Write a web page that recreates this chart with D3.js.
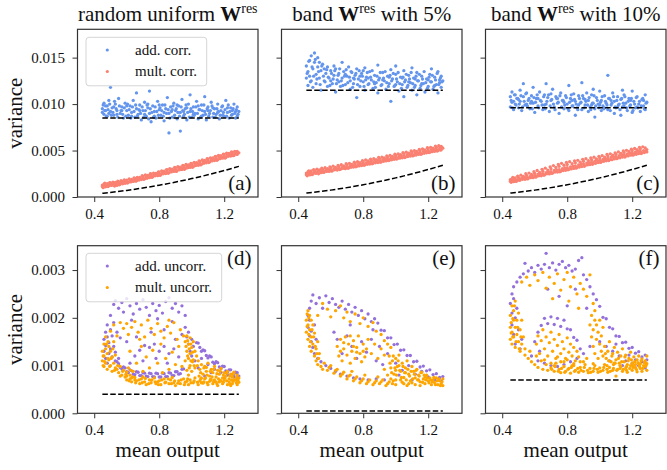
<!DOCTYPE html>
<html>
<head>
<meta charset="utf-8">
<script src="https://cdn.jsdelivr.net/npm/d3@7"></script>
<style>
  body { margin: 0; background: #fff; }
  svg text { font-family: "Liberation Serif", "Times New Roman", serif; }
</style>
</head>
<body>
<svg id="chart" width="667" height="470"></svg>
<script>
// ---- data ----
const titles = ["random uniform", "band", "band"];
const titleTails = ["", " with 5%", " with 10%"];
const panelLabels = ["(a)", "(b)", "(c)", "(d)", "(e)", "(f)"];
const xTicks = [0.4, 0.8, 1.2];
const yTicksTop = [0, 0.005, 0.010, 0.015];
const yTicksBottom = [0, 0.001, 0.002, 0.003];
const legendTop = ["add. corr.", "mult. corr."];
const legendBottom = ["add. uncorr.", "mult. uncorr."];

// dashed theory lines
const theorySpan = [0.45, 1.29];
const theoryX = [0.45, 0.6, 0.8, 1.0, 1.2, 1.29];
const theoryMultA = [0.0004, 0.00071, 0.00127, 0.00198, 0.00285, 0.0033];
const theoryMultB = [0.00042, 0.00074, 0.00132, 0.00206, 0.00296, 0.00342];
const theoryMultC = [0.00042, 0.00074, 0.00132, 0.00206, 0.00296, 0.00342];
const theoryAddTop = [0.0085, 0.0115, 0.0096];
const theoryBottom = [0.0004, 0.00005, 0.0007];

// (a) random uniform, correlated noise
const addCorrA = [[0.45,0.0095],[0.46,0.0089],[0.46,0.0101],[0.47,0.0093],[0.48,0.0098],[0.48,0.0087],[0.49,0.0104],[0.50,0.0092],[0.50,0.0118],[0.51,0.0096],[0.52,0.0088],[0.53,0.0100],[0.54,0.0093],[0.55,0.0106],[0.56,0.0090],[0.57,0.0097],[0.58,0.0085],[0.59,0.0101],[0.60,0.0093],[0.61,0.0088],[0.62,0.0098],[0.63,0.0091],[0.64,0.0104],[0.65,0.0086],[0.66,0.0112],[0.66,0.0095],[0.67,0.0089],[0.68,0.0099],[0.69,0.0083],[0.70,0.0093],[0.71,0.0102],[0.72,0.0087],[0.73,0.0096],[0.74,0.0114],[0.74,0.0090],[0.75,0.0081],[0.76,0.0098],[0.77,0.0092],[0.78,0.0085],[0.79,0.0103],[0.80,0.0094],[0.81,0.0088],[0.82,0.0099],[0.83,0.0082],[0.84,0.0095],[0.85,0.0107],[0.86,0.0069],[0.86,0.0090],[0.87,0.0097],[0.88,0.0086],[0.89,0.0101],[0.90,0.0093],[0.91,0.0084],[0.92,0.0098],[0.93,0.0071],[0.93,0.0091],[0.94,0.0105],[0.95,0.0087],[0.96,0.0095],[0.97,0.0083],[0.98,0.0100],[0.99,0.0110],[0.99,0.0092],[1.00,0.0086],[1.01,0.0097],[1.02,0.0090],[1.03,0.0103],[1.04,0.0084],[1.05,0.0094],[1.06,0.0099],[1.07,0.0088],[1.08,0.0108],[1.08,0.0092],[1.09,0.0083],[1.10,0.0097],[1.11,0.0090],[1.12,0.0102],[1.13,0.0086],[1.14,0.0095],[1.15,0.0089],[1.16,0.0100],[1.17,0.0084],[1.18,0.0093],[1.19,0.0098],[1.20,0.0087],[1.21,0.0104],[1.22,0.0091],[1.23,0.0085],[1.24,0.0096],[1.25,0.0089],[1.26,0.0100],[1.27,0.0092],[1.28,0.0087],[1.28,0.0097],[0.45,0.0091],[0.47,0.0098],[0.49,0.0090],[0.52,0.0097],[0.54,0.0089],[0.57,0.0093],[0.60,0.0098],[0.63,0.0087],[0.68,0.0093],[0.71,0.0089],[0.73,0.0100],[0.77,0.0087],[0.80,0.0099],[0.83,0.0091],[0.88,0.0094],[0.91,0.0099],[0.95,0.0092],[0.97,0.0096],[1.01,0.0089],[1.04,0.0098],[1.06,0.0087],[1.10,0.0093],[1.13,0.0096],[1.16,0.0091],[1.19,0.0088],[1.22,0.0096],[1.25,0.0093],[1.27,0.0085],[1.29,0.0092],
  [0.455,0.0099],[0.465,0.0093],[0.475,0.0087],[0.485,0.0094],[0.495,0.0100],[0.505,0.0088],[0.515,0.0091],[0.525,0.0103],[0.535,0.0095],[0.545,0.0086],[0.555,0.0098],[0.565,0.0093],[0.575,0.0089],[0.585,0.0096],[0.595,0.0087],[0.605,0.0100],[0.615,0.0094],[0.625,0.0085],[0.635,0.0097],[0.645,0.0092],[0.655,0.0099],[0.665,0.0087],[0.675,0.0094],[0.685,0.0090],[0.695,0.0097],[0.705,0.0086],[0.715,0.0093],[0.725,0.0099],[0.735,0.0084],[0.745,0.0095],[0.755,0.0091],[0.765,0.0086],[0.775,0.0097],[0.785,0.0092],[0.795,0.0088],[0.805,0.0096],[0.815,0.0093],[0.825,0.0087],[0.835,0.0099],[0.845,0.0090],[0.855,0.0094],[0.865,0.0085],[0.875,0.0092],[0.885,0.0098],[0.895,0.0088],[0.905,0.0095],[0.915,0.0091],[0.925,0.0087],[0.935,0.0097],[0.945,0.0093],[0.955,0.0089],[0.965,0.0099],[0.975,0.0091],[0.985,0.0086],[0.995,0.0095],[1.005,0.0092],[1.015,0.0088],[1.025,0.0097],[1.035,0.0090],[1.045,0.0094],[1.055,0.0086],[1.065,0.0093],[1.075,0.0099],[1.085,0.0089],[1.095,0.0095],[1.105,0.0087],[1.115,0.0093],[1.125,0.0098],[1.135,0.0090],[1.145,0.0086],[1.155,0.0095],[1.165,0.0092],[1.175,0.0088],[1.185,0.0097],[1.195,0.0091],[1.205,0.0094],[1.215,0.0087],[1.225,0.0099],[1.235,0.0092],[1.245,0.0088],[1.255,0.0095],[1.265,0.0090],[1.275,0.0094],[1.285,0.0089]];
const multCorrA = [[0.45,0.00112],[0.45,0.00128],[0.46,0.00120],[0.46,0.00138],[0.47,0.00110],[0.48,0.00131],[0.48,0.00145],[0.49,0.00122],[0.50,0.00138],[0.50,0.00152],[0.51,0.00128],[0.52,0.00146],[0.53,0.00136],[0.53,0.00158],[0.54,0.00125],[0.55,0.00150],[0.56,0.00162],[0.56,0.00140],[0.57,0.00155],[0.58,0.00170],[0.59,0.00148],[0.60,0.00165],[0.60,0.00182],[0.61,0.00158],[0.62,0.00176],[0.63,0.00190],[0.64,0.00168],[0.65,0.00185],[0.65,0.00200],[0.66,0.00175],[0.67,0.00195],[0.68,0.00210],[0.69,0.00188],[0.70,0.00205],[0.70,0.00222],[0.71,0.00196],[0.72,0.00215],[0.73,0.00232],[0.74,0.00208],[0.75,0.00225],[0.75,0.00245],[0.76,0.00218],[0.77,0.00238],[0.78,0.00255],[0.79,0.00230],[0.80,0.00248],[0.80,0.00268],[0.81,0.00240],[0.82,0.00262],[0.83,0.00278],[0.84,0.00252],[0.85,0.00270],[0.85,0.00292],[0.86,0.00262],[0.87,0.00285],[0.88,0.00300],[0.89,0.00275],[0.90,0.00292],[0.90,0.00312],[0.91,0.00282],[0.92,0.00305],[0.93,0.00322],[0.94,0.00296],[0.95,0.00315],[0.95,0.00335],[0.96,0.00305],[0.97,0.00328],[0.98,0.00345],[0.99,0.00318],[1.00,0.00338],[1.00,0.00358],[1.01,0.00328],[1.02,0.00352],[1.03,0.00370],[1.04,0.00342],[1.05,0.00362],[1.05,0.00382],[1.06,0.00352],[1.07,0.00378],[1.08,0.00395],[1.09,0.00368],[1.10,0.00388],[1.10,0.00408],[1.11,0.00378],[1.12,0.00402],[1.13,0.00420],[1.14,0.00392],[1.15,0.00412],[1.15,0.00432],[1.16,0.00402],[1.17,0.00428],[1.18,0.00445],[1.19,0.00418],[1.20,0.00438],[1.20,0.00458],[1.21,0.00425],[1.22,0.00450],[1.23,0.00468],[1.24,0.00440],[1.25,0.00462],[1.25,0.00480],[1.26,0.00448],[1.27,0.00472],[1.28,0.00490],[1.28,0.00458],[1.29,0.00475],
  [0.455,0.00100],[0.465,0.00148],[0.475,0.00128],[0.485,0.00112],[0.495,0.00155],[0.505,0.00125],[0.515,0.00160],[0.525,0.00118],[0.535,0.00145],[0.545,0.00170],[0.555,0.00132],[0.565,0.00175],[0.575,0.00142],[0.585,0.00185],[0.595,0.00160],[0.605,0.00150],[0.615,0.00195],[0.625,0.00162],[0.635,0.00175],[0.645,0.00205],[0.655,0.00170],[0.665,0.00210],[0.675,0.00182],[0.685,0.00198],[0.695,0.00230],[0.705,0.00190],[0.715,0.00238],[0.725,0.00202],[0.735,0.00222],[0.745,0.00250],[0.755,0.00212],[0.765,0.00258],[0.775,0.00228],[0.785,0.00242],[0.795,0.00270],[0.805,0.00232],[0.815,0.00282],[0.825,0.00250],[0.835,0.00262],[0.845,0.00295],[0.855,0.00255],[0.865,0.00305],[0.875,0.00270],[0.885,0.00288],[0.895,0.00318],[0.905,0.00275],[0.915,0.00328],[0.925,0.00292],[0.935,0.00308],[0.945,0.00340],[0.955,0.00298],[0.965,0.00350],[0.975,0.00315],[0.985,0.00332],[0.995,0.00362],[1.005,0.00320],[1.015,0.00372],[1.025,0.00338],[1.035,0.00355],[1.045,0.00388],[1.055,0.00345],[1.065,0.00398],[1.075,0.00362],[1.085,0.00380],[1.095,0.00412],[1.105,0.00370],[1.115,0.00422],[1.125,0.00388],[1.135,0.00405],[1.145,0.00438],[1.155,0.00395],[1.165,0.00448],[1.175,0.00412],[1.185,0.00430],[1.195,0.00462],[1.205,0.00420],[1.215,0.00472],[1.225,0.00438],[1.235,0.00455],[1.245,0.00485],[1.255,0.00445],[1.265,0.00492],[1.275,0.00462],[1.285,0.00478]];

// (b) band 5%, correlated noise
const addCorrB = [[0.45,0.0128],[0.45,0.0141],[0.46,0.0135],[0.46,0.0120],[0.47,0.0147],[0.47,0.0130],[0.48,0.0152],[0.48,0.0125],[0.49,0.0138],[0.49,0.0118],[0.50,0.0145],[0.50,0.0155],[0.51,0.0132],[0.51,0.0122],[0.52,0.0140],[0.52,0.0150],[0.53,0.0128],[0.54,0.0136],[0.54,0.0115],[0.55,0.0143],[0.56,0.0125],[0.57,0.0133],[0.58,0.0119],[0.58,0.0140],[0.59,0.0128],[0.60,0.0136],[0.61,0.0122],[0.62,0.0131],[0.63,0.0113],[0.63,0.0138],[0.64,0.0126],[0.65,0.0133],[0.66,0.0119],[0.67,0.0145],[0.67,0.0128],[0.68,0.0135],[0.69,0.0121],[0.70,0.0130],[0.71,0.0140],[0.72,0.0116],[0.72,0.0125],[0.73,0.0134],[0.74,0.0122],[0.75,0.0131],[0.76,0.0107],[0.76,0.0138],[0.77,0.0127],[0.78,0.0119],[0.79,0.0133],[0.80,0.0124],[0.81,0.0139],[0.81,0.0115],[0.82,0.0129],[0.83,0.0121],[0.84,0.0135],[0.85,0.0126],[0.86,0.0117],[0.87,0.0131],[0.88,0.0123],[0.89,0.0142],[0.89,0.0112],[0.90,0.0128],[0.91,0.0120],[0.92,0.0134],[0.93,0.0125],[0.94,0.0116],[0.95,0.0130],[0.96,0.0122],[0.97,0.0137],[0.97,0.0103],[0.98,0.0127],[0.99,0.0119],[1.00,0.0132],[1.01,0.0124],[1.02,0.0114],[1.03,0.0129],[1.04,0.0121],[1.05,0.0136],[1.05,0.0108],[1.06,0.0126],[1.07,0.0118],[1.08,0.0131],[1.09,0.0123],[1.10,0.0115],[1.11,0.0128],[1.12,0.0120],[1.13,0.0134],[1.13,0.0110],[1.14,0.0125],[1.15,0.0117],[1.16,0.0130],[1.17,0.0122],[1.18,0.0113],[1.19,0.0127],[1.20,0.0119],[1.21,0.0132],[1.22,0.0124],[1.23,0.0116],[1.24,0.0129],[1.25,0.0121],[1.26,0.0135],[1.26,0.0112],[1.27,0.0126],[1.28,0.0118],[1.28,0.0130],[0.53,0.0145],[0.56,0.0138],[0.60,0.0125],[0.65,0.0124],[0.69,0.0132],[0.74,0.0128],[0.78,0.0130],[0.83,0.0128],[0.87,0.0122],[0.92,0.0126],[0.96,0.0129],[1.00,0.0121],[1.04,0.0128],[1.08,0.0124],[1.12,0.0127],[1.16,0.0122],[1.20,0.0126],[1.24,0.0120],[1.27,0.0123],[0.62,0.0141],[0.80,0.0136],[1.00,0.0141],[1.10,0.0139],[1.22,0.0138],[1.29,0.0125],
  [0.455,0.0133],[0.465,0.0146],[0.475,0.0124],[0.485,0.0140],[0.495,0.0130],[0.505,0.0148],[0.515,0.0127],[0.525,0.0135],[0.535,0.0121],[0.545,0.0141],[0.555,0.0130],[0.565,0.0124],[0.575,0.0137],[0.585,0.0129],[0.595,0.0120],[0.605,0.0133],[0.615,0.0127],[0.625,0.0136],[0.635,0.0122],[0.645,0.0131],[0.655,0.0138],[0.665,0.0125],[0.675,0.0120],[0.685,0.0130],[0.695,0.0137],[0.705,0.0123],[0.715,0.0129],[0.725,0.0135],[0.735,0.0118],[0.745,0.0127],[0.755,0.0133],[0.765,0.0121],[0.775,0.0136],[0.785,0.0125],[0.795,0.0130],[0.805,0.0119],[0.815,0.0126],[0.825,0.0134],[0.835,0.0122],[0.845,0.0129],[0.855,0.0136],[0.865,0.0124],[0.875,0.0118],[0.885,0.0130],[0.895,0.0126],[0.905,0.0134],[0.915,0.0121],[0.925,0.0128],[0.935,0.0135],[0.945,0.0123],[0.955,0.0119],[0.965,0.0131],[0.975,0.0125],[0.985,0.0133],[0.995,0.0120],[1.005,0.0127],[1.015,0.0134],[1.025,0.0122],[1.035,0.0117],[1.045,0.0129],[1.055,0.0124],[1.065,0.0132],[1.075,0.0120],[1.085,0.0127],[1.095,0.0134],[1.105,0.0122],[1.115,0.0118],[1.125,0.0130],[1.135,0.0125],[1.145,0.0132],[1.155,0.0120],[1.165,0.0127],[1.175,0.0135],[1.185,0.0123],[1.195,0.0117],[1.205,0.0129],[1.215,0.0124],[1.225,0.0131],[1.235,0.0119],[1.245,0.0126],[1.255,0.0133],[1.265,0.0121],[1.275,0.0128],[1.285,0.0124]];
const multCorrB = [[0.45,0.00240],[0.45,0.00258],[0.46,0.00250],[0.46,0.00270],[0.47,0.00238],[0.48,0.00262],[0.48,0.00280],[0.49,0.00248],[0.50,0.00268],[0.50,0.00285],[0.51,0.00255],[0.52,0.00275],[0.53,0.00292],[0.54,0.00262],[0.55,0.00282],[0.55,0.00298],[0.56,0.00268],[0.57,0.00288],[0.58,0.00305],[0.59,0.00275],[0.60,0.00295],[0.60,0.00312],[0.61,0.00282],[0.62,0.00302],[0.63,0.00318],[0.64,0.00290],[0.65,0.00310],[0.65,0.00328],[0.66,0.00298],[0.67,0.00318],[0.68,0.00335],[0.69,0.00305],[0.70,0.00325],[0.70,0.00345],[0.71,0.00312],[0.72,0.00335],[0.73,0.00352],[0.74,0.00322],[0.75,0.00342],[0.75,0.00362],[0.76,0.00330],[0.77,0.00352],[0.78,0.00370],[0.79,0.00338],[0.80,0.00360],[0.80,0.00380],[0.81,0.00346],[0.82,0.00368],[0.83,0.00388],[0.84,0.00355],[0.85,0.00375],[0.85,0.00395],[0.86,0.00362],[0.87,0.00385],[0.88,0.00402],[0.89,0.00370],[0.90,0.00392],[0.90,0.00412],[0.91,0.00378],[0.92,0.00402],[0.93,0.00420],[0.94,0.00388],[0.95,0.00410],[0.95,0.00430],[0.96,0.00395],[0.97,0.00418],[0.98,0.00438],[0.99,0.00405],[1.00,0.00428],[1.00,0.00448],[1.01,0.00412],[1.02,0.00438],[1.03,0.00455],[1.04,0.00422],[1.05,0.00445],[1.05,0.00465],[1.06,0.00430],[1.07,0.00455],[1.08,0.00472],[1.09,0.00440],[1.10,0.00462],[1.10,0.00482],[1.11,0.00448],[1.12,0.00472],[1.13,0.00490],[1.14,0.00458],[1.15,0.00480],[1.15,0.00500],[1.16,0.00465],[1.17,0.00490],[1.18,0.00508],[1.19,0.00475],[1.20,0.00498],[1.20,0.00518],[1.21,0.00482],[1.22,0.00508],[1.23,0.00525],[1.24,0.00492],[1.25,0.00515],[1.25,0.00535],[1.26,0.00500],[1.27,0.00522],[1.28,0.00545],[1.28,0.00508],[1.29,0.00525],
  [0.455,0.00228],[0.465,0.00282],[0.475,0.00262],[0.485,0.00240],[0.495,0.00295],[0.505,0.00258],[0.515,0.00300],[0.525,0.00250],[0.535,0.00280],[0.545,0.00310],[0.555,0.00265],[0.565,0.00315],[0.575,0.00275],[0.585,0.00298],[0.595,0.00325],[0.605,0.00280],[0.615,0.00332],[0.625,0.00292],[0.635,0.00305],[0.645,0.00340],[0.655,0.00295],[0.665,0.00348],[0.675,0.00308],[0.685,0.00322],[0.695,0.00358],[0.705,0.00310],[0.715,0.00362],[0.725,0.00320],[0.735,0.00338],[0.745,0.00375],[0.755,0.00325],[0.765,0.00380],[0.775,0.00335],[0.785,0.00355],[0.795,0.00390],[0.805,0.00342],[0.815,0.00398],[0.825,0.00352],[0.835,0.00372],[0.845,0.00408],[0.855,0.00358],[0.865,0.00412],[0.875,0.00368],[0.885,0.00390],[0.895,0.00425],[0.905,0.00375],[0.915,0.00430],[0.925,0.00385],[0.935,0.00405],[0.945,0.00442],[0.955,0.00392],[0.965,0.00448],[0.975,0.00400],[0.985,0.00422],[0.995,0.00460],[1.005,0.00408],[1.015,0.00465],[1.025,0.00418],[1.035,0.00440],[1.045,0.00478],[1.055,0.00425],[1.065,0.00482],[1.075,0.00435],[1.085,0.00458],[1.095,0.00495],[1.105,0.00442],[1.115,0.00500],[1.125,0.00452],[1.135,0.00475],[1.145,0.00512],[1.155,0.00460],[1.165,0.00518],[1.175,0.00470],[1.185,0.00492],[1.195,0.00530],[1.205,0.00478],[1.215,0.00535],[1.225,0.00488],[1.235,0.00510],[1.245,0.00548],[1.255,0.00495],[1.265,0.00552],[1.275,0.00505],[1.285,0.00530]];

// (c) band 10%, correlated noise
const addCorrC = [[0.45,0.0108],[0.45,0.0097],[0.46,0.0113],[0.46,0.0102],[0.47,0.0094],[0.48,0.0110],[0.48,0.0100],[0.49,0.0106],[0.50,0.0096],[0.51,0.0115],[0.51,0.0103],[0.52,0.0093],[0.53,0.0108],[0.53,0.0122],[0.54,0.0099],[0.55,0.0112],[0.56,0.0104],[0.57,0.0095],[0.58,0.0109],[0.59,0.0118],[0.59,0.0101],[0.60,0.0091],[0.61,0.0106],[0.62,0.0098],[0.63,0.0113],[0.64,0.0103],[0.65,0.0094],[0.66,0.0110],[0.67,0.0122],[0.67,0.0100],[0.68,0.0107],[0.69,0.0092],[0.70,0.0104],[0.71,0.0116],[0.72,0.0097],[0.73,0.0108],[0.74,0.0101],[0.75,0.0090],[0.76,0.0112],[0.77,0.0104],[0.78,0.0095],[0.79,0.0109],[0.80,0.0100],[0.81,0.0120],[0.81,0.0093],[0.82,0.0106],[0.83,0.0098],[0.84,0.0111],[0.85,0.0088],[0.85,0.0103],[0.86,0.0096],[0.87,0.0109],[0.88,0.0101],[0.89,0.0123],[0.89,0.0094],[0.90,0.0106],[0.91,0.0099],[0.92,0.0112],[0.93,0.0092],[0.93,0.0104],[0.94,0.0097],[0.95,0.0110],[0.96,0.0101],[0.97,0.0086],[0.97,0.0095],[0.98,0.0107],[0.99,0.0100],[1.00,0.0114],[1.01,0.0093],[1.01,0.0104],[1.02,0.0098],[1.03,0.0109],[1.04,0.0101],[1.05,0.0131],[1.05,0.0094],[1.06,0.0106],[1.07,0.0099],[1.08,0.0112],[1.09,0.0090],[1.09,0.0103],[1.10,0.0096],[1.11,0.0108],[1.12,0.0100],[1.13,0.0088],[1.13,0.0105],[1.14,0.0097],[1.15,0.0110],[1.16,0.0101],[1.17,0.0093],[1.18,0.0106],[1.19,0.0099],[1.20,0.0114],[1.20,0.0091],[1.21,0.0103],[1.22,0.0096],[1.23,0.0108],[1.24,0.0100],[1.25,0.0092],[1.26,0.0105],[1.27,0.0098],[1.28,0.0110],[1.28,0.0094],[1.29,0.0102],[0.47,0.0103],[0.50,0.0105],[0.55,0.0100],[0.58,0.0103],[0.62,0.0106],[0.66,0.0099],[0.70,0.0111],[0.74,0.0106],[0.78,0.0102],[0.83,0.0104],[0.87,0.0099],[0.91,0.0105],[0.95,0.0099],[1.00,0.0099],[1.03,0.0096],[1.07,0.0104],[1.11,0.0097],[1.15,0.0098],[1.19,0.0104],[1.23,0.0097],[1.27,0.0104],[1.14,0.0115],[0.96,0.0116],
  [0.455,0.0104],[0.465,0.0096],[0.475,0.0110],[0.485,0.0099],[0.495,0.0106],[0.505,0.0100],[0.515,0.0109],[0.525,0.0097],[0.535,0.0103],[0.545,0.0111],[0.555,0.0098],[0.565,0.0106],[0.575,0.0101],[0.585,0.0095],[0.595,0.0107],[0.605,0.0102],[0.615,0.0110],[0.625,0.0096],[0.635,0.0104],[0.645,0.0099],[0.655,0.0108],[0.665,0.0095],[0.675,0.0103],[0.685,0.0110],[0.695,0.0098],[0.705,0.0105],[0.715,0.0100],[0.725,0.0094],[0.735,0.0106],[0.745,0.0102],[0.755,0.0109],[0.765,0.0097],[0.775,0.0104],[0.785,0.0099],[0.795,0.0107],[0.805,0.0095],[0.815,0.0102],[0.825,0.0110],[0.835,0.0098],[0.845,0.0105],[0.855,0.0100],[0.865,0.0094],[0.875,0.0106],[0.885,0.0102],[0.895,0.0109],[0.905,0.0096],[0.915,0.0103],[0.925,0.0099],[0.935,0.0107],[0.945,0.0094],[0.955,0.0101],[0.965,0.0109],[0.975,0.0098],[0.985,0.0104],[0.995,0.0096],[1.005,0.0102],[1.015,0.0108],[1.025,0.0095],[1.035,0.0103],[1.045,0.0099],[1.055,0.0106],[1.065,0.0093],[1.075,0.0101],[1.085,0.0108],[1.095,0.0097],[1.105,0.0104],[1.115,0.0099],[1.125,0.0094],[1.135,0.0106],[1.145,0.0101],[1.155,0.0108],[1.165,0.0096],[1.175,0.0103],[1.185,0.0098],[1.195,0.0106],[1.205,0.0093],[1.215,0.0100],[1.225,0.0107],[1.235,0.0096],[1.245,0.0103],[1.255,0.0098],[1.265,0.0106],[1.275,0.0095],[1.285,0.0101]];
const multCorrC = [[0.45,0.00170],[0.45,0.00188],[0.46,0.00178],[0.46,0.00196],[0.47,0.00165],[0.48,0.00185],[0.48,0.00205],[0.49,0.00175],[0.50,0.00195],[0.50,0.00212],[0.51,0.00182],[0.52,0.00202],[0.53,0.00222],[0.54,0.00190],[0.55,0.00212],[0.55,0.00232],[0.56,0.00198],[0.57,0.00220],[0.58,0.00242],[0.59,0.00208],[0.60,0.00232],[0.60,0.00255],[0.61,0.00218],[0.62,0.00242],[0.63,0.00265],[0.64,0.00228],[0.65,0.00252],[0.65,0.00278],[0.66,0.00238],[0.67,0.00262],[0.68,0.00290],[0.69,0.00248],[0.70,0.00272],[0.70,0.00305],[0.71,0.00258],[0.72,0.00285],[0.73,0.00318],[0.74,0.00268],[0.75,0.00295],[0.75,0.00330],[0.76,0.00278],[0.77,0.00305],[0.78,0.00342],[0.79,0.00288],[0.80,0.00315],[0.80,0.00350],[0.81,0.00298],[0.82,0.00325],[0.83,0.00358],[0.84,0.00308],[0.85,0.00335],[0.85,0.00368],[0.86,0.00318],[0.87,0.00345],[0.88,0.00375],[0.89,0.00328],[0.90,0.00355],[0.90,0.00385],[0.91,0.00338],[0.92,0.00365],[0.93,0.00392],[0.94,0.00350],[0.95,0.00375],[0.95,0.00402],[0.96,0.00360],[0.97,0.00385],[0.98,0.00410],[0.99,0.00370],[1.00,0.00395],[1.00,0.00420],[1.01,0.00380],[1.02,0.00405],[1.03,0.00430],[1.04,0.00390],[1.05,0.00415],[1.05,0.00440],[1.06,0.00400],[1.07,0.00425],[1.08,0.00450],[1.09,0.00410],[1.10,0.00435],[1.10,0.00460],[1.11,0.00420],[1.12,0.00445],[1.13,0.00470],[1.14,0.00430],[1.15,0.00455],[1.15,0.00480],[1.16,0.00440],[1.17,0.00465],[1.18,0.00490],[1.19,0.00450],[1.20,0.00475],[1.20,0.00500],[1.21,0.00460],[1.22,0.00485],[1.23,0.00510],[1.24,0.00468],[1.25,0.00492],[1.25,0.00518],[1.26,0.00475],[1.27,0.00500],[1.28,0.00528],[1.29,0.00485],[1.29,0.00510],
  [0.455,0.00158],[0.465,0.00210],[0.475,0.00185],[0.485,0.00168],[0.495,0.00225],[0.505,0.00180],[0.515,0.00235],[0.525,0.00190],[0.535,0.00212],[0.545,0.00250],[0.555,0.00195],[0.565,0.00258],[0.575,0.00208],[0.585,0.00230],[0.595,0.00272],[0.605,0.00215],[0.615,0.00285],[0.625,0.00228],[0.635,0.00250],[0.645,0.00298],[0.655,0.00235],[0.665,0.00310],[0.675,0.00250],[0.685,0.00272],[0.695,0.00325],[0.705,0.00255],[0.715,0.00338],[0.725,0.00268],[0.735,0.00292],[0.745,0.00350],[0.755,0.00272],[0.765,0.00362],[0.775,0.00285],[0.785,0.00312],[0.795,0.00372],[0.805,0.00292],[0.815,0.00380],[0.825,0.00302],[0.835,0.00330],[0.845,0.00388],[0.855,0.00310],[0.865,0.00395],[0.875,0.00322],[0.885,0.00350],[0.895,0.00405],[0.905,0.00330],[0.915,0.00412],[0.925,0.00345],[0.935,0.00370],[0.945,0.00420],[0.955,0.00352],[0.965,0.00428],[0.975,0.00362],[0.985,0.00392],[0.995,0.00438],[1.005,0.00372],[1.015,0.00445],[1.025,0.00385],[1.035,0.00412],[1.045,0.00458],[1.055,0.00392],[1.065,0.00465],[1.075,0.00402],[1.085,0.00432],[1.095,0.00475],[1.105,0.00412],[1.115,0.00485],[1.125,0.00422],[1.135,0.00452],[1.145,0.00495],[1.155,0.00430],[1.165,0.00502],[1.175,0.00442],[1.185,0.00472],[1.195,0.00515],[1.205,0.00450],[1.215,0.00522],[1.225,0.00460],[1.235,0.00490],[1.245,0.00535],[1.255,0.00468],[1.265,0.00540],[1.275,0.00478],[1.285,0.00500]];

// (d) random uniform, uncorrelated noise
const addUncorrD = [[0.50,0.00205],[0.52,0.00228],[0.53,0.00236],[0.55,0.00220],[0.57,0.00232],[0.58,0.00212],[0.60,0.00240],[0.62,0.00225],[0.64,0.00208],[0.66,0.00230],[0.68,0.00218],[0.70,0.00238],[0.72,0.00222],[0.74,0.00205],[0.76,0.00230],[0.78,0.00215],[0.80,0.00226],[0.82,0.00210],[0.84,0.00234],[0.86,0.00242],[0.88,0.00220],[0.90,0.00230],[0.92,0.00212],[0.94,0.00225],[0.96,0.00205],[0.63,0.00195],[0.79,0.00198],[0.88,0.00192],[0.46,0.00155],[0.46,0.00130],[0.47,0.00170],[0.47,0.00142],[0.47,0.00115],[0.48,0.00185],[0.48,0.00160],[0.48,0.00105],[0.49,0.00148],[0.49,0.00125],[0.50,0.00175],[0.50,0.00135],[0.51,0.00162],[0.51,0.00118],[0.52,0.00190],[0.52,0.00140],[0.53,0.00128],[0.54,0.00170],[0.55,0.00115],[0.56,0.00158],[0.53,0.00110],[0.55,0.00104],[0.57,0.00093],[0.59,0.00095],[0.61,0.00085],[0.63,0.00089],[0.65,0.00081],[0.67,0.00086],[0.69,0.00079],[0.71,0.00084],[0.73,0.00077],[0.75,0.00083],[0.77,0.00076],[0.79,0.00083],[0.81,0.00076],[0.83,0.00083],[0.85,0.00077],[0.87,0.00084],[0.89,0.00079],[0.91,0.00087],[0.93,0.00083],[0.95,0.00093],[0.62,0.00105],[0.65,0.00120],[0.68,0.00132],[0.71,0.00142],[0.74,0.00138],[0.77,0.00145],[0.80,0.00130],[0.83,0.00140],[0.86,0.00125],[0.89,0.00135],[0.92,0.00118],[0.70,0.00110],[0.78,0.00115],[0.85,0.00105],[0.90,0.00155],[0.94,0.00165],[0.66,0.00160],[0.60,0.00150],[0.75,0.00170],[0.83,0.00175],[0.96,0.00180],[0.97,0.00160],[0.98,0.00145],[0.98,0.00170],[0.99,0.00130],[1.00,0.00155],[1.00,0.00120],[1.01,0.00140],[1.02,0.00110],[1.03,0.00148],[1.05,0.00138],[1.07,0.00133],[1.09,0.00121],[1.11,0.00120],[1.13,0.00107],[1.15,0.00108],[1.17,0.00097],[1.19,0.00099],[1.21,0.00089],[1.23,0.00091],[1.25,0.00082],[1.27,0.00086],[1.29,0.00078],[1.06,0.00115],[1.10,0.00102],[1.14,0.00092],[1.18,0.00086],[1.22,0.00080],[1.26,0.00076],[1.04,0.00095],[1.12,0.00085],[1.20,0.00074],[1.28,0.00070],[1.08,0.00078],
  [0.54,0.00108],[0.56,0.00096],[0.58,0.00097],[0.60,0.00087],[0.62,0.00091],[0.64,0.00082],[0.66,0.00087],[0.68,0.00079],[0.70,0.00085],[0.72,0.00078],[0.74,0.00084],[0.76,0.00077],[0.78,0.00084],[0.80,0.00076],[0.82,0.00084],[0.84,0.00077],[0.86,0.00085],[0.88,0.00079],[0.90,0.00087],[0.92,0.00082],[0.94,0.00092],[1.04,0.00147],[1.06,0.00130],[1.08,0.00131],[1.10,0.00116],[1.12,0.00118],[1.14,0.00104],[1.16,0.00106],[1.18,0.00094],[1.20,0.00098],[1.22,0.00086],[1.24,0.00091],[1.26,0.00080],[1.28,0.00085]];
const multUncorrD = [[0.60,0.00078],[0.62,0.00072],[0.63,0.00066],[0.65,0.00075],[0.66,0.00068],[0.68,0.00062],[0.69,0.00072],[0.71,0.00066],[0.72,0.00060],[0.74,0.00070],[0.75,0.00064],[0.77,0.00074],[0.78,0.00062],[0.80,0.00068],[0.81,0.00060],[0.83,0.00072],[0.84,0.00065],[0.86,0.00062],[0.87,0.00070],[0.89,0.00064],[0.90,0.00058],[0.92,0.00068],[0.93,0.00062],[0.95,0.00072],[0.96,0.00065],[0.98,0.00060],[0.99,0.00070],[1.01,0.00064],[1.02,0.00074],[1.04,0.00060],[1.05,0.00068],[1.07,0.00063],[1.08,0.00072],[1.10,0.00060],[1.11,0.00067],[1.13,0.00062],[1.14,0.00070],[1.16,0.00058],[1.17,0.00066],[1.19,0.00062],[1.20,0.00070],[1.22,0.00060],[1.23,0.00066],[1.25,0.00062],[1.26,0.00070],[1.28,0.00060],[1.29,0.00065],[0.70,0.00076],[0.79,0.00066],[0.88,0.00075],[0.97,0.00067],[1.06,0.00064],[1.15,0.00066],[1.24,0.00058],[0.45,0.00130],[0.45,0.00110],[0.46,0.00145],[0.46,0.00120],[0.46,0.00098],[0.47,0.00160],[0.47,0.00135],[0.47,0.00105],[0.48,0.00125],[0.48,0.00092],[0.49,0.00140],[0.49,0.00112],[0.50,0.00100],[0.50,0.00130],[0.51,0.00088],[0.51,0.00118],[0.52,0.00105],[0.52,0.00150],[0.53,0.00095],[0.53,0.00122],[0.54,0.00092],[0.55,0.00085],[0.56,0.00098],[0.57,0.00080],[0.58,0.00090],[0.59,0.00076],[0.60,0.00086],[0.61,0.00095],[0.62,0.00080],[0.63,0.00074],[0.64,0.00088],[0.65,0.00070],[0.56,0.00078],[0.60,0.00070],[0.50,0.00172],[0.52,0.00185],[0.54,0.00162],[0.56,0.00190],[0.58,0.00178],[0.60,0.00188],[0.61,0.00165],[0.63,0.00180],[0.65,0.00192],[0.67,0.00170],[0.69,0.00185],[0.71,0.00160],[0.73,0.00195],[0.75,0.00178],[0.77,0.00165],[0.79,0.00188],[0.81,0.00172],[0.83,0.00158],[0.85,0.00182],[0.87,0.00168],[0.89,0.00190],[0.91,0.00155],[0.93,0.00175],[0.95,0.00162],[0.68,0.00155],[0.86,0.00195],[0.62,0.00130],[0.66,0.00105],[0.69,0.00140],[0.72,0.00118],[0.74,0.00095],[0.76,0.00132],[0.79,0.00105],[0.81,0.00145],[0.84,0.00115],[0.86,0.00092],[0.88,0.00128],[0.90,0.00102],[0.92,0.00140],[0.94,0.00098],[0.70,0.00088],[0.82,0.00085],[0.96,0.00150],[0.96,0.00110],[0.97,0.00162],[0.97,0.00130],[0.97,0.00090],[0.98,0.00145],[0.98,0.00115],[0.98,0.00080],[0.99,0.00158],[0.99,0.00125],[0.99,0.00100],[1.00,0.00138],[1.00,0.00088],[1.01,0.00150],[1.01,0.00112],[1.02,0.00130],[1.02,0.00095],[1.03,0.00120],[1.04,0.00110],[1.05,0.00092],[1.06,0.00102],[1.07,0.00082],[1.08,0.00098],[1.09,0.00088],[1.10,0.00105],[1.11,0.00078],[1.12,0.00092],[1.13,0.00085],[1.14,0.00098],[1.15,0.00076],[1.16,0.00090],[1.17,0.00082],[1.18,0.00094],[1.19,0.00074],[1.20,0.00085],[1.21,0.00078],[1.22,0.00088],[1.23,0.00072],[1.24,0.00082],[1.25,0.00076],[1.26,0.00086],[1.27,0.00070],[1.28,0.00080],[1.29,0.00074],[1.06,0.00074],[1.12,0.00070],[1.18,0.00068],[1.09,0.00096],
  [0.615,0.00068],[0.635,0.00076],[0.655,0.00064],[0.675,0.00070],[0.695,0.00064],[0.715,0.00073],[0.735,0.00062],[0.755,0.00070],[0.775,0.00066],[0.795,0.00060],[0.815,0.00070],[0.835,0.00064],[0.855,0.00072],[0.875,0.00062],[0.895,0.00068],[0.915,0.00063],[0.935,0.00070],[0.955,0.00060],[0.975,0.00072],[0.995,0.00064],[1.015,0.00068],[1.035,0.00065],[1.055,0.00072],[1.075,0.00066],[1.095,0.00064],[1.115,0.00071],[1.135,0.00066],[1.155,0.00062],[1.175,0.00069],[1.195,0.00065],[1.215,0.00068],[1.235,0.00062],[1.255,0.00067],[1.275,0.00064],[1.285,0.00070],[1.035,0.00100],[1.055,0.00085],[1.075,0.00095],[1.095,0.00080],[1.115,0.00088],[1.135,0.00092],[1.155,0.00083],[1.175,0.00088],[1.195,0.00080],[1.215,0.00084],[1.235,0.00078],[1.255,0.00082],[1.275,0.00075],[1.045,0.00078],[1.085,0.00074],[1.125,0.00076],[1.165,0.00072],[1.205,0.00074],[1.245,0.00070],[0.965,0.00140],[0.975,0.00120],[0.985,0.00135],[0.995,0.00110],[1.005,0.00128],[1.015,0.00100],[0.975,0.00152],[0.995,0.00145],[1.005,0.00108],[0.985,0.00095],[0.455,0.00120],[0.465,0.00108],[0.475,0.00145],[0.485,0.00115],[0.495,0.00098],[0.505,0.00115],[0.515,0.00135],[0.525,0.00090],[0.455,0.00100],[0.485,0.00150],[0.545,0.00100],[0.575,0.00088],[0.595,0.00082],[0.625,0.00090]];

// (e) band 5%, uncorrelated noise
const addUncorrE = [[0.47,0.00220],[0.48,0.00235],[0.49,0.00248],[0.51,0.00230],[0.53,0.00242],[0.55,0.00220],[0.57,0.00246],[0.59,0.00232],[0.61,0.00240],[0.63,0.00228],[0.65,0.00222],[0.67,0.00235],[0.69,0.00218],[0.71,0.00228],[0.73,0.00212],[0.75,0.00222],[0.77,0.00205],[0.79,0.00215],[0.81,0.00198],[0.83,0.00208],[0.85,0.00192],[0.87,0.00198],[0.89,0.00189],[0.91,0.00174],[0.93,0.00173],[0.95,0.00158],[0.97,0.00158],[0.99,0.00144],[1.01,0.00145],[1.03,0.00132],[1.05,0.00133],[1.07,0.00121],[1.09,0.00121],[1.11,0.00108],[1.13,0.00109],[1.15,0.00097],[1.17,0.00099],[1.19,0.00089],[1.21,0.00091],[1.23,0.00081],[1.25,0.00083],[1.27,0.00075],[1.29,0.00077],[0.46,0.00205],[0.46,0.00180],[0.47,0.00162],[0.47,0.00195],[0.48,0.00150],[0.48,0.00172],[0.49,0.00138],[0.50,0.00185],[0.50,0.00125],[0.51,0.00155],[0.52,0.00115],[0.54,0.00108],[0.57,0.00100],[0.60,0.00094],[0.63,0.00088],[0.66,0.00082],[0.70,0.00078],[0.74,0.00074],[0.78,0.00072],[0.83,0.00070],[0.88,0.00072],[0.93,0.00070],[0.64,0.00155],[0.67,0.00125],[0.70,0.00162],[0.73,0.00140],[0.76,0.00115],[0.79,0.00150],[0.82,0.00128],[0.85,0.00155],[0.88,0.00110],[0.90,0.00140],[0.92,0.00102],[0.95,0.00125],[0.62,0.00170],[0.72,0.00185],[0.86,0.00175],[1.00,0.00105],[1.04,0.00090],[1.08,0.00100],[1.12,0.00082],[1.16,0.00088],[1.20,0.00076],[1.24,0.00070],[1.28,0.00068],[1.02,0.00080],[1.10,0.00070]];
const multUncorrE = [[0.45,0.00195],[0.45,0.00170],[0.46,0.00215],[0.46,0.00155],[0.46,0.00185],[0.47,0.00205],[0.47,0.00140],[0.47,0.00175],[0.48,0.00195],[0.48,0.00130],[0.48,0.00160],[0.49,0.00185],[0.49,0.00145],[0.50,0.00120],[0.50,0.00168],[0.51,0.00135],[0.51,0.00110],[0.52,0.00150],[0.52,0.00102],[0.53,0.00125],[0.52,0.00205],[0.55,0.00230],[0.58,0.00218],[0.60,0.00202],[0.63,0.00215],[0.66,0.00225],[0.68,0.00200],[0.70,0.00212],[0.72,0.00192],[0.75,0.00208],[0.78,0.00188],[0.80,0.00200],[0.83,0.00182],[0.86,0.00190],[0.88,0.00172],[0.91,0.00165],[0.93,0.00152],[0.95,0.00145],[0.97,0.00138],[0.54,0.00098],[0.56,0.00105],[0.58,0.00090],[0.60,0.00100],[0.62,0.00084],[0.64,0.00092],[0.66,0.00078],[0.68,0.00086],[0.70,0.00072],[0.72,0.00080],[0.74,0.00068],[0.76,0.00076],[0.78,0.00064],[0.80,0.00072],[0.82,0.00062],[0.84,0.00070],[0.86,0.00060],[0.88,0.00068],[0.90,0.00062],[0.92,0.00070],[0.94,0.00058],[0.96,0.00066],[0.64,0.00140],[0.65,0.00120],[0.66,0.00155],[0.67,0.00110],[0.68,0.00135],[0.69,0.00160],[0.70,0.00122],[0.71,0.00145],[0.72,0.00105],[0.73,0.00130],[0.74,0.00152],[0.75,0.00115],[0.76,0.00138],[0.77,0.00162],[0.78,0.00125],[0.79,0.00108],[0.80,0.00145],[0.81,0.00118],[0.82,0.00135],[0.83,0.00155],[0.68,0.00148],[0.72,0.00162],[0.76,0.00128],[0.80,0.00130],[0.66,0.00130],[0.74,0.00140],[0.85,0.00125],[0.87,0.00145],[0.89,0.00115],[0.91,0.00135],[0.93,0.00122],[0.96,0.00120],[0.97,0.00095],[0.98,0.00110],[0.99,0.00082],[1.00,0.00115],[1.00,0.00070],[1.01,0.00098],[1.02,0.00122],[1.03,0.00088],[1.04,0.00105],[1.05,0.00075],[1.05,0.00062],[1.06,0.00095],[1.07,0.00110],[1.08,0.00082],[1.09,0.00068],[1.10,0.00098],[1.11,0.00088],[1.12,0.00074],[1.12,0.00060],[1.13,0.00092],[1.14,0.00080],[1.15,0.00066],[1.16,0.00086],[1.17,0.00072],[1.18,0.00062],[1.19,0.00080],[1.20,0.00068],[1.21,0.00074],[1.22,0.00060],[1.23,0.00070],[1.24,0.00064],[1.25,0.00074],[1.26,0.00060],[1.27,0.00068],[1.28,0.00062],[1.29,0.00072],[1.29,0.00058],[1.03,0.00070],[1.07,0.00058],[1.10,0.00064],[1.15,0.00058],[1.02,0.00100],[1.06,0.00085],[1.14,0.00070],[1.18,0.00076],[1.00,0.00090],[0.98,0.00062],[0.95,0.00080],[0.93,0.00092],
  [0.965,0.00105],[0.975,0.00085],[0.985,0.00120],[0.995,0.00095],[1.005,0.00080],[1.015,0.00110],[1.025,0.00090],[1.035,0.00075],[1.045,0.00098],[1.055,0.00085],[1.065,0.00070],[1.075,0.00092],[1.085,0.00078],[1.095,0.00088],[1.105,0.00072],[1.115,0.00082],[1.125,0.00090],[1.135,0.00070],[1.145,0.00078],[1.155,0.00085],[1.165,0.00065],[1.175,0.00080],[1.185,0.00070],[1.195,0.00074],[1.205,0.00064],[1.215,0.00070],[1.225,0.00066],[1.235,0.00075],[1.245,0.00060],[1.255,0.00068],[1.265,0.00072],[1.275,0.00058],[1.285,0.00066],[1.00,0.00060],[1.04,0.00065],[1.08,0.00062],[0.97,0.00072],[0.985,0.00068],[0.55,0.00092],[0.59,0.00096],[0.63,0.00090],[0.67,0.00082],[0.71,0.00078],[0.75,0.00072],[0.79,0.00068],[0.83,0.00066],[0.87,0.00064],[0.91,0.00066],[0.95,0.00062],[0.73,0.00088],[0.81,0.00080],[0.89,0.00076],[0.455,0.00182],[0.465,0.00165],[0.475,0.00150],[0.485,0.00175],[0.495,0.00160],[0.505,0.00140],[0.515,0.00125],[0.525,0.00115],[0.465,0.00200],[0.455,0.00208]];

// (f) band 10%, uncorrelated noise
const addUncorrF = [[0.46,0.00250],[0.47,0.00265],[0.49,0.00275],[0.51,0.00285],[0.53,0.00292],[0.54,0.00314],[0.56,0.00298],[0.58,0.00305],[0.60,0.00295],[0.62,0.00310],[0.64,0.00302],[0.66,0.00312],[0.67,0.00335],[0.69,0.00305],[0.71,0.00315],[0.73,0.00300],[0.75,0.00312],[0.77,0.00318],[0.79,0.00305],[0.81,0.00310],[0.83,0.00298],[0.85,0.00302],[0.87,0.00320],[0.89,0.00326],[0.90,0.00290],[0.92,0.00280],[0.94,0.00265],[0.96,0.00250],[0.98,0.00238],[1.00,0.00224],[1.02,0.00201],[1.04,0.00198],[1.06,0.00180],[1.08,0.00177],[1.10,0.00162],[1.12,0.00161],[1.14,0.00148],[1.16,0.00149],[1.18,0.00136],[1.20,0.00138],[1.22,0.00126],[1.24,0.00129],[1.26,0.00118],[1.28,0.00122],[1.29,0.00112],[0.45,0.00230],[0.46,0.00210],[0.46,0.00185],[0.47,0.00240],[0.47,0.00165],[0.48,0.00200],[0.48,0.00145],[0.49,0.00220],[0.50,0.00175],[0.51,0.00135],[0.52,0.00155],[0.62,0.00170],[0.64,0.00184],[0.66,0.00199],[0.68,0.00188],[0.70,0.00202],[0.72,0.00186],[0.74,0.00199],[0.76,0.00182],[0.78,0.00195],[0.80,0.00177],[0.82,0.00175],[0.84,0.00159],[0.86,0.00153],[0.88,0.00135],[0.60,0.00150],[0.63,0.00130],[0.58,0.00120],[0.62,0.00110],[0.66,0.00105],[0.70,0.00100],[0.74,0.00098],[0.78,0.00102],[0.82,0.00108],[0.86,0.00115],[0.90,0.00125],[0.94,0.00140],[0.75,0.00245],[0.85,0.00260],[0.80,0.00225],[0.92,0.00220],[0.68,0.00260],[1.00,0.00150],[1.04,0.00140],[1.08,0.00130],[1.12,0.00120],[1.16,0.00110],[1.20,0.00105],[1.24,0.00100],[1.28,0.00095],[1.06,0.00110],[1.14,0.00100],[1.22,0.00112],[1.26,0.00108],[1.18,0.00122],[1.10,0.00145]];
const multUncorrF = [[0.52,0.00275],[0.55,0.00285],[0.57,0.00268],[0.60,0.00290],[0.62,0.00278],[0.65,0.00295],[0.67,0.00262],[0.69,0.00285],[0.72,0.00272],[0.74,0.00292],[0.76,0.00258],[0.78,0.00280],[0.80,0.00295],[0.82,0.00265],[0.84,0.00285],[0.86,0.00250],[0.88,0.00272],[0.90,0.00260],[0.92,0.00245],[0.94,0.00290],[0.96,0.00230],[0.97,0.00215],[0.71,0.00240],[0.81,0.00235],[0.87,0.00220],[0.45,0.00180],[0.45,0.00155],[0.45,0.00205],[0.46,0.00225],[0.46,0.00170],[0.46,0.00145],[0.47,0.00195],[0.47,0.00215],[0.47,0.00160],[0.48,0.00180],[0.48,0.00235],[0.48,0.00138],[0.49,0.00165],[0.49,0.00195],[0.50,0.00150],[0.50,0.00210],[0.51,0.00175],[0.51,0.00130],[0.52,0.00145],[0.53,0.00160],[0.52,0.00195],[0.54,0.00135],[0.54,0.00122],[0.56,0.00115],[0.57,0.00130],[0.58,0.00108],[0.60,0.00102],[0.61,0.00120],[0.62,0.00096],[0.64,0.00110],[0.65,0.00092],[0.67,0.00102],[0.68,0.00090],[0.70,0.00095],[0.72,0.00088],[0.73,0.00105],[0.75,0.00092],[0.76,0.00085],[0.78,0.00098],[0.79,0.00088],[0.81,0.00094],[0.82,0.00084],[0.84,0.00100],[0.85,0.00090],[0.87,0.00086],[0.88,0.00096],[0.90,0.00088],[0.91,0.00102],[0.93,0.00085],[0.94,0.00094],[0.96,0.00088],[0.97,0.00100],[0.99,0.00086],[1.00,0.00095],[1.02,0.00090],[1.03,0.00102],[1.05,0.00086],[1.06,0.00096],[1.08,0.00090],[1.09,0.00105],[1.10,0.00078],[1.11,0.00092],[1.13,0.00098],[1.14,0.00088],[1.16,0.00095],[1.17,0.00086],[1.19,0.00100],[1.20,0.00090],[1.22,0.00096],[1.23,0.00087],[1.25,0.00094],[1.26,0.00088],[1.28,0.00098],[1.29,0.00090],[1.29,0.00104],[0.61,0.00145],[0.62,0.00162],[0.63,0.00125],[0.64,0.00152],[0.65,0.00175],[0.66,0.00135],[0.67,0.00160],[0.68,0.00120],[0.69,0.00148],[0.70,0.00170],[0.71,0.00130],[0.72,0.00155],[0.73,0.00115],[0.74,0.00142],[0.75,0.00165],[0.76,0.00125],[0.77,0.00150],[0.78,0.00135],[0.79,0.00115],[0.80,0.00158],[0.81,0.00128],[0.82,0.00145],[0.83,0.00120],[0.84,0.00138],[0.85,0.00110],[0.86,0.00130],[0.87,0.00118],[0.88,0.00108],[0.66,0.00112],[0.70,0.00105],[0.76,0.00108],[0.83,0.00100],[0.94,0.00185],[0.95,0.00160],[0.95,0.00205],[0.96,0.00140],[0.96,0.00175],[0.97,0.00195],[0.97,0.00125],[0.98,0.00155],[0.98,0.00185],[0.99,0.00115],[0.99,0.00170],[1.00,0.00145],[1.00,0.00195],[1.01,0.00130],[1.01,0.00162],[1.02,0.00180],[1.02,0.00120],[1.03,0.00140],[1.04,0.00115],[1.05,0.00130],[1.06,0.00150],[1.07,0.00108],[1.08,0.00125],[1.09,0.00138],[1.10,0.00112],[1.11,0.00128],[1.12,0.00105],[1.13,0.00120],[1.14,0.00135],[1.15,0.00108],[1.16,0.00122],[1.17,0.00102],[1.18,0.00115],[1.19,0.00128],[1.20,0.00105],[1.21,0.00118],[1.22,0.00102],[1.23,0.00112],[1.24,0.00120],[1.25,0.00104],[1.26,0.00114],[1.27,0.00100],[1.28,0.00110],[1.29,0.00120],
  [0.705,0.00092],[0.725,0.00098],[0.745,0.00088],[0.765,0.00094],[0.785,0.00086],[0.805,0.00092],[0.825,0.00096],[0.845,0.00088],[0.865,0.00094],[0.885,0.00090],[0.905,0.00096],[0.925,0.00090],[0.945,0.00086],[0.965,0.00094],[0.985,0.00092],[1.005,0.00088],[1.025,0.00096],[1.045,0.00092],[1.065,0.00088],[1.085,0.00094],[1.105,0.00090],[1.125,0.00094],[1.145,0.00092],[1.165,0.00090],[1.185,0.00094],[1.205,0.00096],[1.225,0.00092],[1.245,0.00098],[1.265,0.00094],[1.285,0.00100],[1.035,0.00125],[1.055,0.00110],[1.075,0.00120],[1.095,0.00105],[1.115,0.00115],[1.135,0.00108],[1.155,0.00118],[1.175,0.00110],[1.195,0.00112],[1.215,0.00108],[1.235,0.00106],[1.255,0.00110],[1.275,0.00106],[1.045,0.00100],[1.085,0.00102],[1.125,0.00100],[1.165,0.00098],[1.205,0.00100],[1.245,0.00102],[1.285,0.00104],[0.72,0.00100],[0.78,0.00108],[0.84,0.00104],[0.90,0.00108],[0.96,0.00104],[0.74,0.00118],[0.80,0.00112],[0.92,0.00115],[0.455,0.00190],[0.465,0.00160],[0.475,0.00225],[0.485,0.00150],[0.495,0.00180],[0.505,0.00135],[0.515,0.00160],[0.465,0.00198],[0.455,0.00168]];

// ---- layout ----
const colLeft = [77.5, 281.5, 485.5];
const panelW = 180.5;
const rows = [
  { top: 29.3, bottom: 197, domain: [0, 0.01805], ticks: yTicksTop, colors: ["#6495ED", "#FA8072"], legend: legendTop },
  { top: 245.7, bottom: 413.3, domain: [0, 0.00351], ticks: yTicksBottom, colors: ["#9370DB", "#FFA500"], legend: legendBottom }
];
const panels = [
  { row: 0, col: 0, add: addCorrA, mult: multCorrA, multTheory: theoryMultA, addTheory: theoryAddTop[0] },
  { row: 0, col: 1, add: addCorrB, mult: multCorrB, multTheory: theoryMultB, addTheory: theoryAddTop[1] },
  { row: 0, col: 2, add: addCorrC, mult: multCorrC, multTheory: theoryMultC, addTheory: theoryAddTop[2] },
  { row: 1, col: 0, add: addUncorrD, mult: multUncorrD, bottomTheory: theoryBottom[0] },
  { row: 1, col: 1, add: addUncorrE, mult: multUncorrE, bottomTheory: theoryBottom[1] },
  { row: 1, col: 2, add: addUncorrF, mult: multUncorrF, bottomTheory: theoryBottom[2] }
];

const svg = d3.select("#chart");
const frameColor = "#333";
const serif = '"Liberation Serif", "Times New Roman", serif';

panels.forEach((p, i) => {
  const r = rows[p.row];
  const left = colLeft[p.col];
  const x = d3.scaleLinear().domain([0.297, 1.408]).range([left, left + panelW]);
  const y = d3.scaleLinear().domain(r.domain).range([r.bottom, r.top]);
  const g = svg.append("g");

  g.append("clipPath").attr("id", "clip" + i)
    .append("rect").attr("x", left).attr("y", r.top)
    .attr("width", panelW).attr("height", r.bottom - r.top);
  const plot = g.append("g").attr("clip-path", `url(#clip${i})`);

  // scatter clouds: additive first, multiplicative on top
  [p.add, p.mult].forEach((series, s) => {
    plot.append("g").selectAll("circle")
      .data(series)
      .join("circle")
      .attr("cx", d => x(d[0]))
      .attr("cy", d => y(d[1]))
      .attr("r", 1.65)
      .attr("fill", r.colors[s]);
  });

  // dashed theory lines
  const dashed = sel => sel.attr("fill", "none").attr("stroke", "#000")
    .attr("stroke-width", 1.5).attr("stroke-dasharray", "5.5,2.4");
  const line = d3.line().x(d => x(d[0])).y(d => y(d[1]));
  if (p.row === 0) {
    plot.append("path").datum(theorySpan.map(v => [v, p.addTheory])).attr("d", line).call(dashed);
    plot.append("path").datum(theoryX.map((v, k) => [v, p.multTheory[k]]))
      .attr("d", line.curve(d3.curveMonotoneX)).call(dashed);
  } else {
    plot.append("path").datum(theorySpan.map(v => [v, p.bottomTheory])).attr("d", line).call(dashed);
  }

  // axes
  const ax = g.append("g").attr("transform", `translate(0,${r.bottom})`)
    .call(d3.axisBottom(x).tickValues(xTicks).tickSize(5).tickPadding(6).tickFormat(d3.format(".1f")));
  const ay = g.append("g").attr("transform", `translate(${left},0)`)
    .call(d3.axisLeft(y).tickValues(r.ticks).tickSize(5).tickPadding(7.5)
      .tickFormat(p.col === 0 ? d3.format(".3f") : () => ""));
  [ax, ay].forEach(a => {
    a.attr("font-family", null);
    a.select(".domain").remove();
    a.selectAll("line").attr("stroke", frameColor).attr("stroke-width", 1);
    a.selectAll("text").attr("font-size", 15).attr("fill", "#111").style("font-family", serif);
  });

  g.append("rect").attr("x", left).attr("y", r.top)
    .attr("width", panelW).attr("height", r.bottom - r.top)
    .attr("fill", "none").attr("stroke", frameColor).attr("stroke-width", 1.2);

  // panel label
  g.append("text")
    .attr("x", left + panelW - 6.5)
    .attr("y", p.row === 0 ? r.bottom - 7 : r.top + 19)
    .attr("text-anchor", "end").attr("font-size", 21).attr("fill", "#111")
    .text(panelLabels[i]);

  // column title and x label
  if (p.row === 0) {
    const t = g.append("text").attr("x", left + panelW / 2).attr("y", 21)
      .attr("text-anchor", "middle").attr("font-size", 21).attr("fill", "#111");
    t.append("tspan").text(titles[p.col] + " ");
    t.append("tspan").attr("font-weight", "bold").text("W");
    t.append("tspan").attr("font-size", 14).attr("dy", -8).text("res");
    if (titleTails[p.col]) t.append("tspan").attr("dy", 8).text(titleTails[p.col]);
  } else {
    g.append("text").attr("x", left + panelW / 2).attr("y", 457)
      .attr("text-anchor", "middle").attr("font-size", 21).attr("fill", "#111")
      .text("mean output");
  }

  if (p.col === 0) {
    const cy = (r.top + r.bottom) / 2;
    g.append("text").attr("transform", `translate(22,${cy}) rotate(-90)`)
      .attr("text-anchor", "middle").attr("font-size", 21).attr("fill", "#111")
      .text("variance");

    // legend
    const lg = g.append("g");
    const ly = p.row === 0 ? 37.3 : 253.3;
    const lw = p.row === 0 ? 120.7 : 135.7;
    lg.append("rect").attr("x", 86).attr("y", ly).attr("width", lw).attr("height", 48.5)
      .attr("rx", 3).attr("fill", "#fff").attr("fill-opacity", 0.8)
      .attr("stroke", "#d5d5d5").attr("stroke-width", 1);
    r.legend.forEach((name, k) => {
      const yy = ly + 12.7 + k * 21.5;
      lg.append("circle").attr("cx", 107.3).attr("cy", yy).attr("r", 1.6).attr("fill", r.colors[k]);
      lg.append("text").attr("x", 135).attr("y", yy).attr("dy", "0.32em")
        .attr("font-size", 15).attr("fill", "#111").text(name);
    });
  }
});
</script>
</body>
</html>
